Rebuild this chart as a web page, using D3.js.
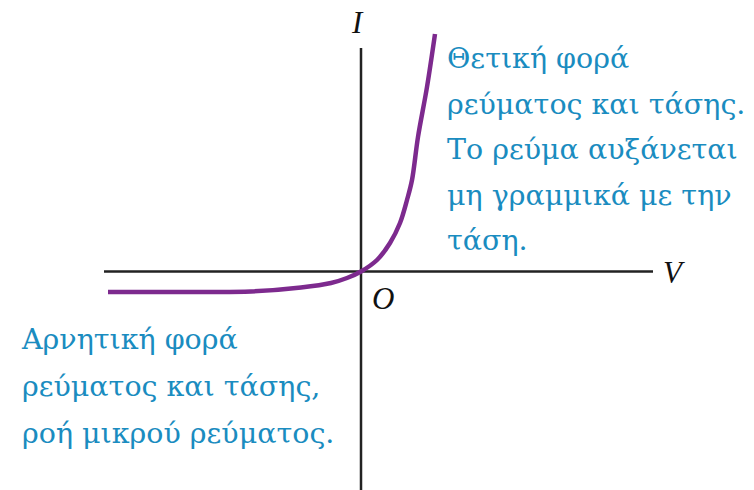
<!DOCTYPE html>
<html>
<head>
<meta charset="utf-8">
<script src="https://cdn.jsdelivr.net/npm/d3@7"></script>
<style>
  html, body { margin: 0; padding: 0; background: #fff; }
  svg { display: block; }
</style>
</head>
<body>
<svg id="chart" width="754" height="490"></svg>
<script>
// Diode I–V characteristic (arbitrary units)
const voltage = [-2.53, -1.6, -1.1, -0.6, -0.3, -0.14, 0, 0.16, 0.29, 0.39, 0.46, 0.51, 0.57, 0.66, 0.74];
const current = [-0.205, -0.205, -0.2, -0.16, -0.115, -0.065, 0, 0.115, 0.285, 0.485, 0.715, 0.915, 1.345, 1.845, 2.375];

// Axis extents
const vAxisExtent = [-2.57, 2.92];
const iAxisExtent = [-2.19, 2.235];

const axisLabels = { v: "V", i: "I", origin: "O" };

const forwardNote = ["Θετική φορά", "ρεύματος και τάσης.", "Το ρεύμα αυξάνεται", "μη γραμμικά με την", "τάση."];
const reverseNote = ["Αρνητική φορά", "ρεύματος και τάσης,", "ροή μικρού ρεύματος."];

const svg = d3.select("#chart");

const x = d3.scaleLinear().domain([0, 1]).range([361, 461]);
const y = d3.scaleLinear().domain([0, 1]).range([271.5, 171.5]);

const axisColor = "#222";
const curveColor = "#7d2a8e";
const textColor = "#1a8cc0";

// Axes
svg.append("line")
  .attr("x1", x(vAxisExtent[0])).attr("x2", x(vAxisExtent[1]))
  .attr("y1", y(0)).attr("y2", y(0))
  .attr("stroke", axisColor).attr("stroke-width", 2.5);

svg.append("line")
  .attr("x1", x(0)).attr("x2", x(0))
  .attr("y1", y(iAxisExtent[0])).attr("y2", y(iAxisExtent[1]))
  .attr("stroke", axisColor).attr("stroke-width", 2.5);

// Characteristic curve
const pts = voltage.map((v, k) => [v, current[k]]);
const line = d3.line()
  .x(d => x(d[0]))
  .y(d => y(d[1]))
  .curve(d3.curveCatmullRom.alpha(0.5));

svg.append("path")
  .datum(pts)
  .attr("d", line)
  .attr("fill", "none")
  .attr("stroke", curveColor)
  .attr("stroke-width", 4.5)
  .attr("stroke-linecap", "butt");

// Axis letters
const italic = { "font-family": "'Liberation Serif', 'Times New Roman', serif", "font-style": "italic", "font-size": "31px", "fill": "#111" };
function label(txt, px, py) {
  const t = svg.append("text").attr("x", px).attr("y", py).text(txt);
  Object.entries(italic).forEach(([k, v]) => t.attr(k, v));
}
label(axisLabels.i, x(0) - 9, 33);
label(axisLabels.v, x(vAxisExtent[1]) + 10, 283);
label(axisLabels.origin, x(0) + 11, 309);

// Annotations
function note(lines, px, py0, dy) {
  const t = svg.append("text")
    .attr("font-family", "'DejaVu Serif', serif")
    .attr("font-size", "28.5px")
    .attr("fill", textColor);
  lines.forEach((s, k) => {
    t.append("tspan").attr("x", px).attr("y", py0 + k * dy).text(s);
  });
}
note(forwardNote, 447, 68, 45.5);
note(reverseNote, 22, 349, 47);
</script>
</body>
</html>
